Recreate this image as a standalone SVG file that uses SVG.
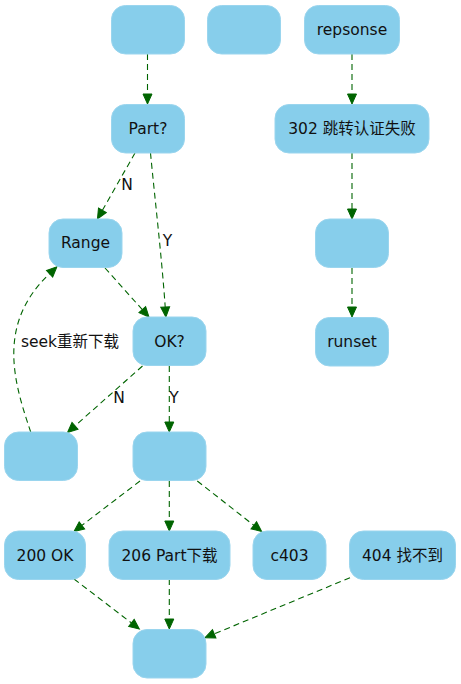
<svg xmlns="http://www.w3.org/2000/svg" width="461" height="684" viewBox="0 0 461 684">
<style>
.n rect{fill:#87ceeb;stroke:#9ad5ee;stroke-width:1}
text{font-family:"DejaVu Sans","Noto Sans CJK SC",sans-serif;font-size:15.5px;fill:#111;text-anchor:middle}
.e path{fill:none;stroke:#006400;stroke-width:1.1;stroke-dasharray:6,4;marker-end:url(#ah)}
</style>
<defs>
<marker id="ah" markerUnits="userSpaceOnUse" markerWidth="12" markerHeight="10" refX="0" refY="4.5" orient="auto" overflow="visible">
<path d="M0,0 L10,4.5 L0,9 Z" fill="#006400" stroke="#006400" stroke-width="1"/>
</marker>
</defs>
<rect width="461" height="684" fill="#fff"/>
<g class="e" id="edges">
<path d="M147.5,54 L147.5,94"/>
<path d="M352,54 L352,94"/>
<path d="M352,153 L352,209"/>
<path d="M352,268 L352,307"/>
<path d="M135,153 L102.4,210.3"/>
<path d="M150.5,153 C155,200 162,260 165.2,307"/>
<path d="M105,268 L142.3,309.6"/>
<path d="M142.5,366 L75,425.9"/>
<path d="M169.3,366 L169.3,422"/>
<path d="M30.7,432 C15,385 -5,325 49.6,273.7"/>
<path d="M140,481 L81.9,525.4"/>
<path d="M169.3,481 L169.3,521"/>
<path d="M197.3,481 L253.8,525.3"/>
<path d="M74,579 L131.4,622.9"/>
<path d="M169.3,579 L169.3,619"/>
<path d="M350,577.7 L214.2,633.9"/>
<text x="127" y="190">N</text>
<text x="167.5" y="246">Y</text>
<text x="70" y="347">seek重新下载</text>
<text x="119" y="403">N</text>
<text x="174" y="403">Y</text>
</g>
<g class="n" id="n1"><rect x="111.5" y="5.5" width="73" height="48.5" rx="14"/></g>
<g class="n" id="n2"><rect x="207.5" y="5.5" width="73" height="48.5" rx="14"/></g>
<g class="n" id="n3"><rect x="304.5" y="5.5" width="95" height="48.5" rx="14"/><text x="352" y="35">repsonse</text></g>
<g class="n" id="n4"><rect x="111.5" y="104.5" width="73" height="48.5" rx="14"/><text x="148" y="134">Part?</text></g>
<g class="n" id="n5"><rect x="275" y="104.5" width="154" height="48.5" rx="14"/><text x="352" y="134">302 跳转认证失败</text></g>
<g class="n" id="n6"><rect x="49" y="219" width="73" height="48.5" rx="14"/><text x="85.5" y="248">Range</text></g>
<g class="n" id="n7"><rect x="315.5" y="219" width="73" height="48.5" rx="14"/></g>
<g class="n" id="n8"><rect x="133" y="317" width="73" height="48.5" rx="14"/><text x="169.5" y="346.5">OK?</text></g>
<g class="n" id="n9"><rect x="315.5" y="317.5" width="73" height="48.5" rx="14"/><text x="352" y="346.5">runset</text></g>
<g class="n" id="n10"><rect x="4.5" y="432" width="73" height="48.5" rx="14"/></g>
<g class="n" id="n11"><rect x="133" y="432" width="73" height="48.5" rx="14"/></g>
<g class="n" id="n12"><rect x="4.5" y="531" width="81" height="48.5" rx="14"/><text x="45" y="560.5">200 OK</text></g>
<g class="n" id="n13"><rect x="109" y="531" width="121" height="48.5" rx="14"/><text x="169.5" y="560.5">206 Part下载</text></g>
<g class="n" id="n14"><rect x="253" y="531" width="73" height="48.5" rx="14"/><text x="289.5" y="560.5">c403</text></g>
<g class="n" id="n15"><rect x="349.5" y="531" width="106" height="48.5" rx="14"/><text x="402.5" y="560.5">404 找不到</text></g>
<g class="n" id="n16"><rect x="133" y="629.5" width="73" height="48.5" rx="14"/></g>
</svg>
